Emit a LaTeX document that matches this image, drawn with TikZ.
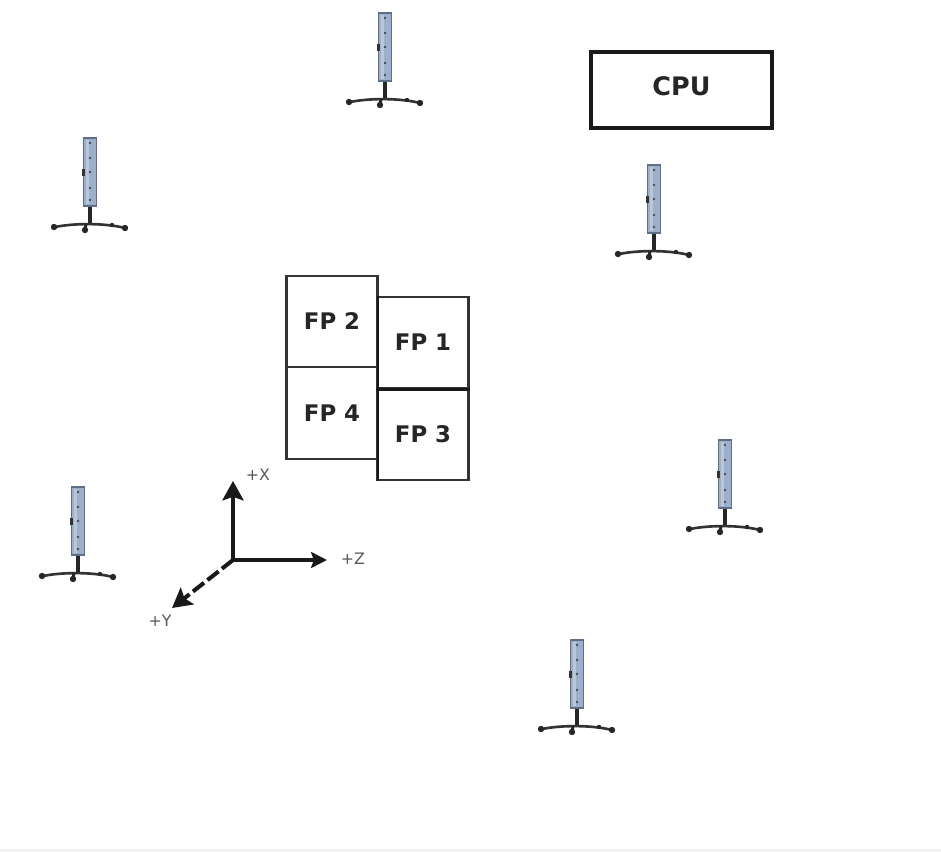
\documentclass[tikz,border=0pt]{standalone}
\usepackage{fontspec}
\usetikzlibrary{arrows.meta}
\setmainfont{DejaVu Sans}
\definecolor{tubeblue}{HTML}{9DB0CB}
\definecolor{tubeedge}{HTML}{5E6E84}
\tikzset{
    fpbox/.style={draw=black!80,line width=1.35pt,minimum width=1.82cm,minimum height=1.83cm,inner sep=0pt,text=black!85,font=\fontsize{13}{15}\selectfont\bfseries},
    axislabel/.style={text=black!65,inner sep=0pt,font=\fontsize{9}{11}\selectfont},
    axisarrow/.style={-{Stealth[length=11pt,width=12pt,inset=2pt]},line width=2.3pt,black!90},
    camera/.pic={
        \fill[black!85] (-2.2,68) rectangle (2.2,87);
        \draw[black!80,line width=1.5pt] (-35,89) .. controls (-15,85) and (15,85) .. (35,90);
        \draw[black!85,line width=1.7pt] (-4,86) -- (-5,92);
        \fill[black!85] (-36,89) circle (3.2);
        \fill[black!85] (-5,92) circle (3.2);
        \fill[black!85] (35,90) circle (3.2);
        \fill[black!85] (22,87) circle (2.2);
        \draw[tubeedge,fill=tubeblue,line width=0.9pt] (-6.5,0) rectangle (6.5,68);
        \fill[white,opacity=0.3] (-4,2) rectangle (-1,66);
        \fill[black!80] (-8,31) rectangle (-5,38);
        \foreach \dotpos in {5,20,34,50,62}
            \fill[black!70] (0,\dotpos) circle (1.3);
    }
}
\begin{document}
\begin{tikzpicture}[x=0.02cm,y=-0.02cm]
    \useasboundingbox[fill=white] (0,0) rectangle (941,852);
    \fill[black!5] (0,849) rectangle (941,852);
    % cameras
    \pic at (385,13) {camera};
    \pic at (90,138) {camera};
    \pic at (654,165) {camera};
    \pic at (725,440) {camera};
    \pic at (78,487) {camera};
    \pic at (577,640) {camera};
    \node[draw=black!90,line width=2.4pt,minimum width=3.62cm,minimum height=1.52cm,text=black!85,font=\fontsize{14.5}{16}\selectfont\bfseries] (cpu) at (681.5,90) {\raisebox{4pt}{CPU}};
    \node[fpbox] (fp2) at (332,321.5) {\raisebox{-1pt}{FP 2}};
    \node[fpbox] (fp4) at (332,413) {FP 4};
    \node[fpbox] (fp1) at (423,342.5) {FP 1};
    \node[fpbox] (fp3) at (423,434.5) {FP 3};
    % heavier joins
    \draw[black!90,line width=2pt] (fp1.south west) -- (fp1.south east);
    \draw[black!90,line width=1.6pt] ([xshift=1pt]fp1.north west) -- ([xshift=1pt]fp3.south west);
    \coordinate (origin) at (233,560);
    \coordinate (xtip) at (233,481);
    \coordinate (ztip) at (327,560);
    \coordinate (ytip) at (172,608);
    \draw[axisarrow] (origin) -- (xtip);
    \draw[axisarrow,-{Stealth[length=9pt,width=9pt,inset=1.5pt]}] (origin) -- (ztip);
    \draw[axisarrow,dash pattern=on 8pt off 2.5pt] (origin) -- (ytip);
    \node[axislabel] (xlabel) at (258,475) {+X};
    \node[axislabel] (zlabel) at (353,559) {+Z};
    \node[axislabel] (ylabel) at (160,621) {+Y};
\end{tikzpicture}
\end{document}
